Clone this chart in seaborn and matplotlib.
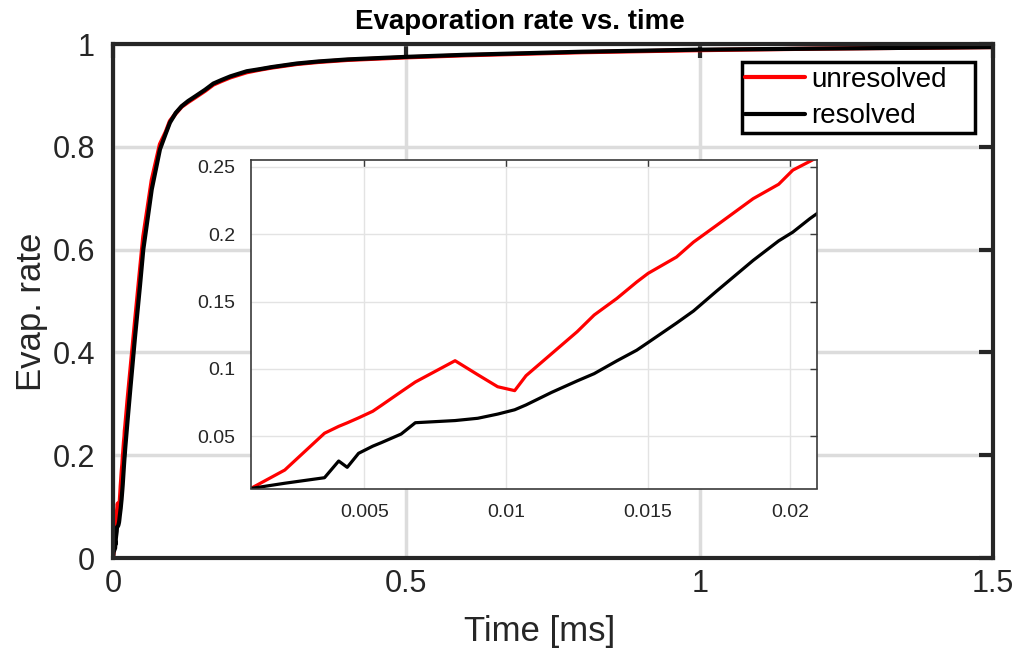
import matplotlib
matplotlib.use("Agg")
import matplotlib.pyplot as plt
import numpy as np
import pandas as pd
import seaborn as sns
from matplotlib.ticker import FuncFormatter
from matplotlib.lines import Line2D
from matplotlib.patches import Rectangle

# ---------------- data ----------------
time_ms = [0, 0.001, 0.0022, 0.0036, 0.0041, 0.0044, 0.0048, 0.0053, 0.0056,
           0.0063, 0.0068, 0.0082, 0.009, 0.0097, 0.0103, 0.0107, 0.0116,
           0.0125, 0.0131, 0.0139, 0.0146, 0.015, 0.016, 0.0166, 0.0174,
           0.0187, 0.0196, 0.0201, 0.0207, 0.021, 0.025, 0.03, 0.0375, 0.046,
           0.0516, 0.066, 0.08, 0.09, 0.097, 0.107, 0.117, 0.128, 0.14, 0.157,
           0.171, 0.185, 0.2, 0.228, 0.25, 0.27, 0.313, 0.35, 0.4, 0.5, 0.6,
           0.7, 0.8, 0.9, 1.0, 1.2, 1.5]
unresolved = [0, 0.0113, 0.025, 0.0523, 0.0574, 0.0600, 0.0637, 0.0686, 0.0729,
              0.0831, 0.0903, 0.1061, 0.0957, 0.0868, 0.0839, 0.0950, 0.1113,
              0.1276, 0.140, 0.1523, 0.1645, 0.1709, 0.1830, 0.1941, 0.2063,
              0.2263, 0.2370, 0.2475, 0.2540, 0.2575, 0.31, 0.37, 0.46, 0.56,
              0.625, 0.735, 0.805, 0.829, 0.850, 0.865, 0.878, 0.887, 0.896,
              0.909, 0.921, 0.928, 0.935, 0.945, 0.950, 0.954, 0.961, 0.965,
              0.969, 0.974, 0.978, 0.981, 0.984, 0.986, 0.988, 0.991, 0.994]
resolved = [0, 0.0113, 0.0152, 0.0193, 0.0317, 0.0270, 0.0374, 0.0427, 0.0453,
            0.0517, 0.0601, 0.0617, 0.0634, 0.0665, 0.0697, 0.0733, 0.0826,
            0.0911, 0.0965, 0.1060, 0.1139, 0.1196, 0.1340, 0.1430, 0.1575,
            0.1805, 0.1950, 0.2015, 0.2115, 0.2160, 0.27, 0.335, 0.43, 0.53,
            0.60, 0.717, 0.795, 0.826, 0.847, 0.866, 0.879, 0.889, 0.898,
            0.911, 0.923, 0.930, 0.937, 0.947, 0.951, 0.955, 0.962, 0.966,
            0.970, 0.975, 0.979, 0.982, 0.985, 0.987, 0.989, 0.991, 0.994]
series_names = ["unresolved", "resolved"]
series_colors = ["#ff0000", "#000000"]
main_xticks = [0, 0.5, 1, 1.5]
main_yticks = [0, 0.2, 0.4, 0.6, 0.8, 1]
inset_xticks = [0.005, 0.01, 0.015, 0.02]
inset_yticks = [0.05, 0.1, 0.15, 0.2, 0.25]
inset_xlim = (0.001, 0.02094)
inset_ylim = (0.0113, 0.255)

df = pd.DataFrame({
    "t": time_ms + time_ms,
    "rate": unresolved + resolved,
    "series": [series_names[0]] * len(time_ms) + [series_names[1]] * len(time_ms),
})

sns.set_theme(style="white")
plt.rcParams['font.family'] = ['Liberation Sans', 'DejaVu Sans']

fig = plt.figure(figsize=(10.14, 6.52), dpi=100)
W, H = 1014, 652

def fx(px):
    return px / W

def fy(py):
    return 1 - py / H

fmt = FuncFormatter(lambda v, p: f"{v:g}")
dark = "#262626"

# ---------------- main axes ----------------
ax = fig.add_axes([fx(113), fy(558), fx(993) - fx(113), fy(44) - fy(558)])
sns.lineplot(data=df, x="t", y="rate", hue="series", hue_order=series_names,
             palette=series_colors, linewidth=3.0, errorbar=None, legend=False,
             ax=ax)
ax.set_xlim(0, 1.5)
ax.set_ylim(0, 1)
ax.set_xticks(main_xticks)
ax.set_yticks(main_yticks)
ax.xaxis.set_major_formatter(fmt)
ax.yaxis.set_major_formatter(fmt)
ax.grid(True, color="#dcdcdc", linewidth=2.5)
ax.set_axisbelow(True)
for s in ax.spines.values():
    s.set_color(dark)
    s.set_linewidth(3)
ax.tick_params(direction="in", length=10, width=3, color=dark, top=True,
               right=True, labelsize=22, labelcolor=dark)
ax.tick_params(axis="y", pad=13)
ax.tick_params(axis="x", pad=8)
ax.set_xlabel("")
ax.set_ylabel("")

fig.text(fx(520), fy(22), "Evaporation rate vs. time", fontsize=20,
         fontweight="bold", ha="center", va="center", color="#000000")
fig.text(fx(540), fy(632), "Time [ms]", fontsize=25, ha="center",
         va="center", color=dark)
fig.text(fx(32), fy(312), "Evap. rate", fontsize=25, ha="center",
         va="center", rotation=90, color=dark)

# legend: frame drawn as a box of fixed size, entries inside it
box = Rectangle((fx(742), fy(133)), fx(975) - fx(742), fy(62) - fy(133),
                transform=fig.transFigure, facecolor="white",
                edgecolor="#000000", linewidth=2.5, clip_on=False, zorder=4.9)
ax.add_patch(box)
handles = [Line2D([0], [0], color=c, linewidth=3) for c in series_colors]
leg = ax.legend(handles, series_names, loc="upper left",
                bbox_to_anchor=(fx(742), fy(64)), bbox_transform=fig.transFigure,
                fontsize=20, frameon=False, borderpad=0.1,
                labelspacing=0.38, handlelength=2.15, handletextpad=0.25,
                borderaxespad=0)
leg.set_zorder(5)
for t in leg.get_texts():
    t.set_color("#000000")

# ---------------- inset axes ----------------
axi = fig.add_axes([fx(250.7), fy(488.5), fx(816.7) - fx(250.7),
                    fy(160) - fy(488.5)])
axi.set_facecolor("white")
sns.lineplot(data=df, x="t", y="rate", hue="series", hue_order=series_names,
             palette=series_colors, linewidth=2.3, errorbar=None, legend=False,
             ax=axi)
axi.set_xlim(*inset_xlim)
axi.set_ylim(*inset_ylim)
axi.set_xticks(inset_xticks)
axi.set_yticks(inset_yticks)
axi.xaxis.set_major_formatter(fmt)
axi.yaxis.set_major_formatter(fmt)
axi.grid(True, color="#e3e3e3", linewidth=1.0)
axi.set_axisbelow(True)
for s in axi.spines.values():
    s.set_color("#3a3a3a")
    s.set_linewidth(1.2)
axi.tick_params(direction="in", length=5, width=1, color="#3a3a3a", top=True,
                right=True, labelsize=14, labelcolor=dark)
axi.tick_params(axis="y", pad=11)
axi.tick_params(axis="x", pad=11)
axi.set_xlabel("")
axi.set_ylabel("")

fig.savefig("out.png", dpi=100)
